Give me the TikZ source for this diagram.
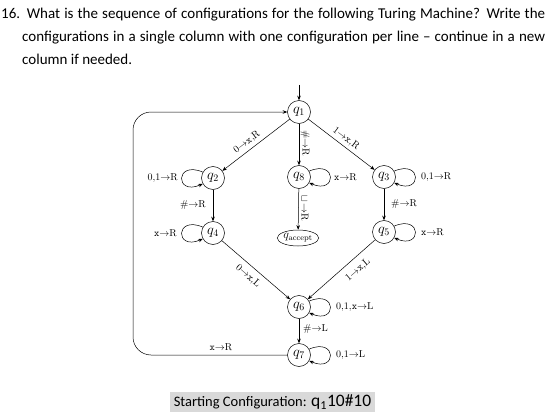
\documentclass[tikz,border=0pt]{standalone}
\usepackage{fontspec}
\newfontfamily\calibri{Carlito}
\usetikzlibrary{arrows.meta,shapes.geometric}
\definecolor{boxgray}{RGB}{217,217,217}
\begin{document}
\begin{tikzpicture}[x=1pt,y=-1pt,
  state/.style={draw,circle,minimum size=23pt,inner sep=0pt,line width=0.5pt,font=\Large},
  arr/.style={-{Stealth[length=4.5pt,width=3.5pt]}, line width=0.5pt},
  lbl/.style={font=\normalsize, inner sep=1pt},
  hdr/.style={anchor=base west, inner sep=0pt, font=\calibri\fontsize{15}{17}\selectfont}]
\useasboundingbox (0,0) rectangle (560,420);
% header
\node[hdr] (h1) at (1,19) {\makebox[544pt][s]{16. What is the sequence of configurations for the following Turing Machine? Write the}};
\node[hdr] (h2) at (22,42) {\makebox[523pt][s]{configurations in a single column with one configuration per line \textendash{} continue in a new}};
\node[hdr] (h3) at (22,65) {column if needed.};
% states
\node[state] (q1) at (299,112) {$q_1$};
\node[state] (q2) at (213,178) {$q_2$};
\node[state] (q8) at (299,177) {$q_8$};
\node[state] (q3) at (384,177) {$q_3$};
\node[state] (q4) at (213,233) {$q_4$};
\node[draw,ellipse,inner sep=0pt,minimum height=16pt,line width=0.5pt,font=\large] (qa) at (298,238) {$q_{\mathrm{accept}}$};
\node[state] (q5) at (384,232) {$q_5$};
\node[state] (q6) at (299,307) {$q_6$};
\node[state] (q7) at (299,355) {$q_7$};
\coordinate (in) at (299,85);
\coordinate (c1) at (133,355);
\coordinate (c2) at (133,112);
% edges
\draw[arr] (in) -- (q1);
\draw[arr] (q1) -- (q2);
\draw[arr] (q1) -- (q3);
\draw[arr] (q1) -- (q8);
\draw[arr] (q8) -- (qa);
\draw[arr] (q2) -- (q4);
\draw[arr] (q3) -- (q5);
\draw[arr] (q4) -- (q6);
\draw[arr] (q5) -- (q6);
\draw[arr] (q6) -- (q7);
\draw[arr,rounded corners=18pt] (q7.west) -- (c1) -- (c2) -- (q1.west);
% loops
\draw[arr] (q2.150) .. controls +(-28,-12) and +(-28,12) .. (q2.210);
\draw[arr] (q4.150) .. controls +(-28,-12) and +(-28,12) .. (q4.210);
\draw[arr] (q8.30) .. controls +(28,-12) and +(28,12) .. (q8.-30);
\draw[arr] (q3.30) .. controls +(28,-12) and +(28,12) .. (q3.-30);
\draw[arr] (q5.30) .. controls +(28,-12) and +(28,12) .. (q5.-30);
\draw[arr] (q6.30) .. controls +(28,-12) and +(28,12) .. (q6.-30);
\draw[arr] (q7.30) .. controls +(28,-12) and +(28,12) .. (q7.-30);
% labels
\node[lbl,rotate=37] (l12) at (247,142) {0$\to$\texttt{x},R};
\node[lbl,rotate=-37] (l13) at (346,139) {1$\to$\texttt{x},R};
\node[lbl,rotate=-90] (l18) at (305,143) {\#$\to$R};
\node[lbl,rotate=-90] (l8a) at (305,208) {$\sqcup\!\to$R};
\node[lbl,anchor=west] (l88) at (333,177) {\texttt{x}$\to$R};
\node[lbl,anchor=east] (l22) at (179,178) {0,1$\to$R};
\node[lbl,anchor=east] (l24) at (207,205) {\#$\to$R};
\node[lbl,anchor=east] (l44) at (178,233) {\texttt{x}$\to$R};
\node[lbl,anchor=west] (l33) at (420,177) {0,1$\to$R};
\node[lbl,anchor=west] (l35) at (390,204) {\#$\to$R};
\node[lbl,anchor=west] (l55) at (420,232) {\texttt{x}$\to$R};
\node[lbl,rotate=-41] (l46) at (248,276) {0$\to$\texttt{x},L};
\node[lbl,rotate=41] (l56) at (358,270) {1$\to$\texttt{x},L};
\node[lbl,anchor=west] (l66) at (335,307) {0,1,\texttt{x}$\to$L};
\node[lbl,anchor=west] (l67) at (302,329) {\#$\to$L};
\node[lbl,anchor=west] (l77) at (335,355) {0,1$\to$L};
\node[lbl] (l71) at (221,347) {\texttt{x}$\to$R};
% starting configuration
\node[fill=boxgray, minimum width=205pt, minimum height=20pt, inner sep=0pt] (start) at (272.5,402) {\calibri\fontsize{14.5}{16}\selectfont Starting Configuration: {\fontsize{17.5}{18}\selectfont q\textsubscript{1}10\#10}};
\end{tikzpicture}
\end{document}
